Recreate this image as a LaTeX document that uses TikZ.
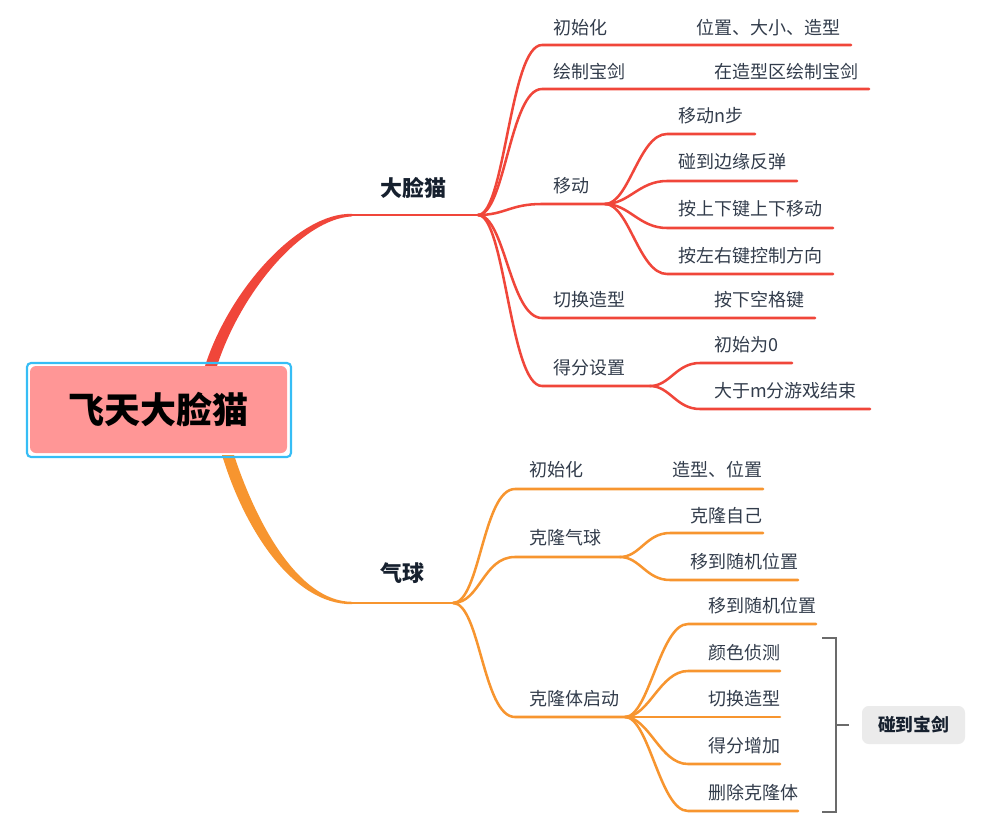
\documentclass[tikz,border=0pt]{standalone}
\usepackage{fontspec}
\setmainfont{Noto Sans CJK SC}
\definecolor{rbr}{RGB}{240,70,58}
\definecolor{obr}{RGB}{247,149,47}
\definecolor{txt}{RGB}{50,60,75}
\definecolor{btxt}{RGB}{22,32,46}
\definecolor{rootblue}{RGB}{54,189,245}
\definecolor{rootpink}{RGB}{255,150,150}
\definecolor{brk}{RGB}{107,107,107}
\definecolor{tagfill}{RGB}{235,235,235}
\begin{document}
\begin{tikzpicture}[x=0.75pt,y=-0.75pt,
  lbl/.style={font=\fontsize{13.5}{16}\selectfont, text=txt, inner sep=0pt, anchor=west},
  blbl/.style={font=\fontsize{16.5}{20}\selectfont\bfseries, text=btxt, inner sep=0pt},
  rl/.style={draw=rbr, line width=1.9pt},
  ol/.style={draw=obr, line width=1.9pt},
  line cap=round, line join=round]
\useasboundingbox (0,0) rectangle (992,817);

% ---------- main tapered branches ----------
\fill[rbr] (205,366) .. controls (230,288) and (300,212) .. (352,213.9) -- (352,216.4) .. controls (302,219) and (241,292) .. (217,366) -- cycle;
\fill[obr] (222,455) .. controls (244,528) and (292,604.5) .. (352,604.2) -- (352,601.8) .. controls (298,601.5) and (256,522) .. (234,455) -- cycle;

% ---------- red subtree ----------
\coordinate (Rs) at (351,215);
\coordinate (R0) at (478,215);
\draw[rl, line width=2.2pt] (Rs) -- (R0);
\node[blbl] (rlab) at (413.5,188) {大脸猫};

\coordinate (a1s) at (542,45);  \coordinate (a1e) at (851,45);
\coordinate (a2s) at (542,89);  \coordinate (a2e) at (869,89);
\coordinate (a3s) at (542,204); \coordinate (a3h) at (605,204);
\coordinate (a4s) at (542,318); \coordinate (a4e) at (815,318);
\coordinate (a5s) at (542,386); \coordinate (a5h) at (650,386);

\draw[rl] (R0) .. controls +(27,0) and +(-32,0) .. (a1s) -- (a1e);
\draw[rl] (R0) .. controls +(27,0) and +(-32,0) .. (a2s) -- (a2e);
\draw[rl] (R0) .. controls +(27,0) and +(-32,0) .. (a3s) -- (a3h);
\draw[rl] (R0) .. controls +(27,0) and +(-32,0) .. (a4s) -- (a4e);
\draw[rl] (R0) .. controls +(27,0) and +(-32,0) .. (a5s) -- (a5h);

\node[lbl] (a1) at (553,28) {初始化};
\node[lbl] (a1c) at (696,28) {位置、大小、造型};
\node[lbl] (a2) at (553,72) {绘制宝剑};
\node[lbl] (a2c) at (714,72) {在造型区绘制宝剑};
\node[lbl] (a3) at (553,186) {移动};
\node[lbl] (a4) at (553,300) {切换造型};
\node[lbl] (a4c) at (714,300) {按下空格键};
\node[lbl] (a5) at (553,368) {得分设置};

\coordinate (a31s) at (667,134); \coordinate (a31e) at (755,134);
\coordinate (a32s) at (667,181); \coordinate (a32e) at (797,181);
\coordinate (a33s) at (667,228); \coordinate (a33e) at (833,228);
\coordinate (a34s) at (667,274); \coordinate (a34e) at (833,274);
\foreach \i in {1,2,3,4}{
  \draw[rl] (a3h) .. controls +(24,0) and +(-28,0) .. (a3\i s) -- (a3\i e);
}
\node[lbl] (a31) at (678,116) {移动n步};
\node[lbl] (a32) at (678,162) {碰到边缘反弹};
\node[lbl] (a33) at (678,209) {按上下键上下移动};
\node[lbl] (a34) at (678,256) {按左右键控制方向};

\coordinate (a51s) at (700,363); \coordinate (a51e) at (792,363);
\coordinate (a52s) at (700,409); \coordinate (a52e) at (870,409);
\draw[rl] (a5h) .. controls +(20,0) and +(-24,0) .. (a51s) -- (a51e);
\draw[rl] (a5h) .. controls +(20,0) and +(-24,0) .. (a52s) -- (a52e);
\node[lbl] (a51) at (714,345) {初始为0};
\node[lbl] (a52) at (714,391) {大于m分游戏结束};

% ---------- orange subtree ----------
\coordinate (Os) at (351,603);
\coordinate (O0) at (453,603);
\draw[ol, line width=2.2pt] (Os) -- (O0);
\node[blbl] (olab) at (402,573) {气球};

\coordinate (b1s) at (515,489); \coordinate (b1e) at (763,489);
\coordinate (b2s) at (515,557); \coordinate (b2h) at (620,557);
\coordinate (b3s) at (515,717); \coordinate (b3h) at (625,717);
\draw[ol] (O0) .. controls +(27,0) and +(-32,0) .. (b1s) -- (b1e);
\draw[ol] (O0) .. controls +(27,0) and +(-32,0) .. (b2s) -- (b2h);
\draw[ol] (O0) .. controls +(27,0) and +(-32,0) .. (b3s) -- (b3h);

\node[lbl] (b1) at (529,470) {初始化};
\node[lbl] (b1c) at (672,470) {造型、位置};
\node[lbl] (b2) at (529,538) {克隆气球};
\node[lbl] (b3) at (529,699) {克隆体启动};

\coordinate (b21s) at (670,533); \coordinate (b21e) at (763,533);
\coordinate (b22s) at (670,580); \coordinate (b22e) at (798,580);
\draw[ol] (b2h) .. controls +(20,0) and +(-24,0) .. (b21s) -- (b21e);
\draw[ol] (b2h) .. controls +(20,0) and +(-24,0) .. (b22s) -- (b22e);
\node[lbl] (b21) at (690,516) {克隆自己};
\node[lbl] (b22) at (690,562) {移到随机位置};

\coordinate (b31s) at (688,624); \coordinate (b31e) at (816,624);
\coordinate (b32s) at (688,671); \coordinate (b32e) at (780,671);
\coordinate (b33s) at (688,717); \coordinate (b33e) at (780,717);
\coordinate (b34s) at (688,764); \coordinate (b34e) at (780,764);
\coordinate (b35s) at (688,811); \coordinate (b35e) at (798,811);
\foreach \i in {1,2,3,4,5}{
  \draw[ol] (b3h) .. controls +(24,0) and +(-28,0) .. (b3\i s) -- (b3\i e);
}
\node[lbl] (b31) at (708,606) {移到随机位置};
\node[lbl] (b32) at (708,653) {颜色侦测};
\node[lbl] (b33) at (708,699) {切换造型};
\node[lbl] (b34) at (708,746) {得分增加};
\node[lbl] (b35) at (708,793) {删除克隆体};

% ---------- bracket and tag ----------
\coordinate (k1) at (822,638); \coordinate (k2) at (836,638);
\coordinate (k3) at (836,812); \coordinate (k4) at (822,812);
\coordinate (km) at (836,725); \coordinate (kt) at (849,725);
\draw[draw=brk, line width=2pt, line cap=butt, line join=miter] (k1) -- (k2) -- (k3) -- (k4);
\draw[draw=brk, line width=2pt, line cap=butt] (km) -- (kt);
\node[fill=tagfill, rounded corners=5pt, minimum width=77.25pt, minimum height=28.5pt, inner sep=0pt,
      font=\fontsize{13.3}{16}\selectfont\bfseries, text=btxt] (tag) at (913.5,725) {碰到宝剑};

% ---------- root ----------
\draw[draw=rootblue, line width=1.6pt, rounded corners=3pt] (27,363) rectangle (291,457);
\node[fill=rootpink, rounded corners=4.5pt, minimum width=192.75pt, minimum height=65.25pt, inner sep=0pt,
      font=\fontsize{27}{32}\selectfont\bfseries, text=black] (root) at (158.5,409.5) {飞天大脸猫};
\end{tikzpicture}
\end{document}
